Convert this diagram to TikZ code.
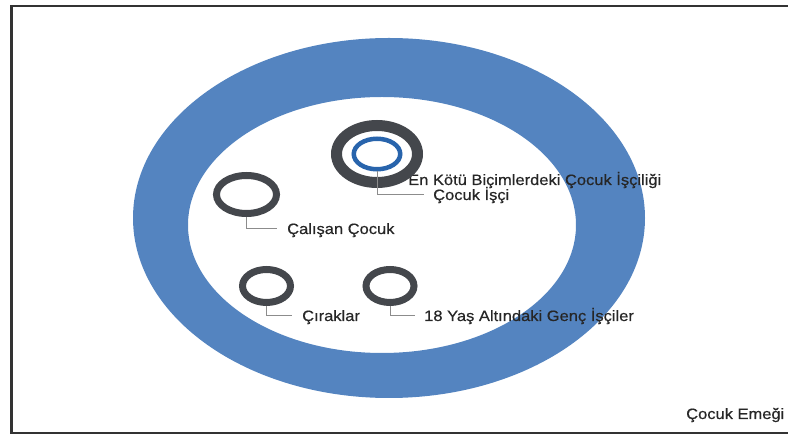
\documentclass[tikz,border=0pt]{standalone}
\usepackage{fontspec}
\setmainfont{Liberation Sans}[FakeStretch=1.1,FakeBold=0.5]
\usetikzlibrary{shapes.geometric}
\definecolor{bigblue}{RGB}{84,132,192}
\definecolor{darkring}{RGB}{68,71,76}
\definecolor{innerblue}{RGB}{40,100,172}
\definecolor{linkgray}{RGB}{140,140,140}
\definecolor{framec}{RGB}{51,51,51}
\tikzset{
  ringbox/.style={draw=darkring, ellipse, inner sep=0pt, line width=7pt},
  plaintext/.style={inner sep=0pt, font=\fontsize{15}{18}\selectfont, text=black!85},
  labeltext/.style={plaintext, anchor=west, text height=12pt, text depth=0pt},
  link/.style={draw=linkgray, line width=0.9pt},
}
\begin{document}
\begin{tikzpicture}[x=1pt,y=-1pt]
\useasboundingbox (0,0) rectangle (788,435);
% frame
\draw[framec, line width=2.6pt] (788,6) -- (11.5,6) -- (11.5,433) -- (788,433);
% big ring
\fill[bigblue, even odd rule] (389,218) ellipse [x radius=256pt, y radius=180pt]
  (382,225) ellipse [x radius=194pt, y radius=128pt];
% text nodes
\node[plaintext, anchor=base west] (tworst) at (408,185) {En Kötü Biçimlerdeki Çocuk İşçiliği};
\node[labeltext] (tlabor) at (433,194) {Çocuk İşçi};
\node[labeltext] (twork) at (287,228) {Çalışan Çocuk};
\node[labeltext] (tapp) at (302,315) {Çıraklar};
\node[labeltext] (tyoung) at (424,315) {18 Yaş Altındaki Genç İşçiler};
\node[plaintext, anchor=base west] (temek) at (686,419) {Çocuk Emeği};
% rings
\node[ringbox, line width=11pt, minimum width=81pt, minimum height=57pt] (rworst) at (377,154) {};
\node[ringbox, draw=innerblue, line width=4.5pt, minimum width=46.5pt, minimum height=30.5pt] (rlabor) at (377,154) {};
\node[ringbox, minimum width=60pt, minimum height=38pt] (rwork) at (246.5,194.5) {};
\node[ringbox, minimum width=48pt, minimum height=33pt] (rapp) at (266.5,286) {};
\node[ringbox, minimum width=48pt, minimum height=33pt] (ryoung) at (390,286) {};
% connectors
\draw[link] (rlabor.south) |- ([xshift=-9pt]tlabor.west);
\draw[link] (rwork.south) |- ([xshift=-10pt]twork.west);
\draw[link] (rapp.south) |- ([xshift=-10pt]tapp.west);
\draw[link] (ryoung.south) |- ([xshift=-9pt]tyoung.west);
\end{tikzpicture}
\end{document}
